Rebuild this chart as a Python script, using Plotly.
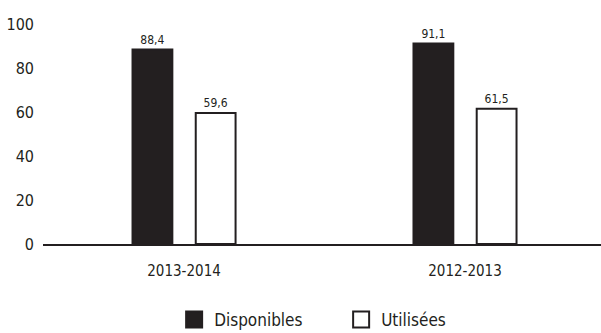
import plotly.graph_objects as go

categories = ["2013-2014", "2012-2013"]
disponibles = [88.4, 91.1]
utilisees = [59.6, 61.5]
series_names = ["Disponibles", "Utilisées"]
y_ticks = [0, 20, 40, 60, 80, 100]

FONT = "Liberation Sans Narrow, DejaVu Sans Condensed, Roboto, sans-serif"
INK = "#231f20"

fig = go.Figure()
fig.add_trace(go.Bar(
    x=categories, y=disponibles, name=series_names[0], showlegend=False,
    marker=dict(color=INK, line=dict(color=INK, width=2)),
    texttemplate="%{y:.1f}", textposition="outside",
    textfont=dict(size=12, color=INK, family=FONT), cliponaxis=False,
))
fig.add_trace(go.Bar(
    x=categories, y=utilisees, name=series_names[1], showlegend=False,
    marker=dict(color="white", line=dict(color=INK, width=2)),
    texttemplate="%{y:.1f}", textposition="outside",
    textfont=dict(size=12, color=INK, family=FONT), cliponaxis=False,
))
# legend entries with larger square symbols
fig.add_trace(go.Scatter(
    x=[None], y=[None], mode="markers", name=series_names[0],
    marker=dict(symbol="square", size=16, color=INK, line=dict(color=INK, width=2)),
))
fig.add_trace(go.Scatter(
    x=[None], y=[None], mode="markers", name=series_names[1],
    marker=dict(symbol="square", size=16, color="white", line=dict(color=INK, width=2)),
))

fig.update_layout(
    width=601, height=333,
    margin=dict(l=43, r=0, t=24, b=89, autoexpand=False),
    paper_bgcolor="white", plot_bgcolor="white",
    separators=",.",
    barmode="group", bargap=0.55, bargroupgap=0.37,
    font=dict(family=FONT, color=INK, size=15),
    showlegend=True,
    legend=dict(orientation="h", x=0.235, xanchor="left", y=-0.345, yanchor="middle",
                font=dict(size=17, family=FONT), itemwidth=30, traceorder="normal",
                entrywidthmode="pixels", entrywidth=122, itemsizing="trace"),
    xaxis=dict(range=[-0.502, 1.484], showline=True, linecolor=INK, linewidth=2,
               ticks="", tickfont=dict(size=15), showgrid=False, zeroline=False,
               ticklabelstandoff=12, automargin=False),
    yaxis=dict(range=[0, 100], tickvals=y_ticks, showgrid=False, zeroline=False,
               showline=False, ticks="", tickfont=dict(size=16), ticklabelstandoff=8,
               automargin=False),
)

fig.write_html("out.html")
